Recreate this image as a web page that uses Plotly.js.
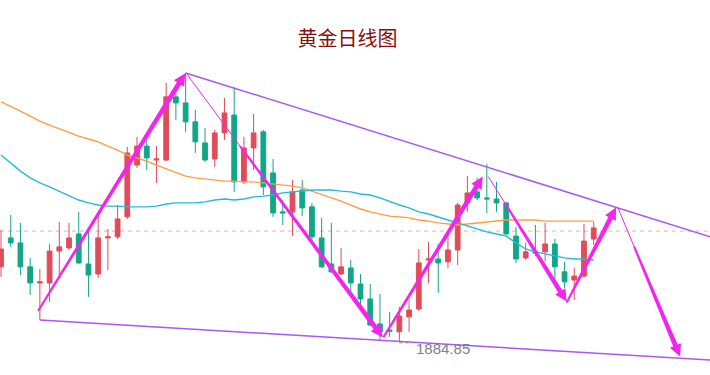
<!DOCTYPE html>
<html>
<head>
<meta charset="utf-8">
<script src="https://cdn.plot.ly/plotly-3.0.1.min.js"></script>
<style>html,body{margin:0;padding:0;background:#fff;}#chart{width:710px;height:375px;}</style>
</head>
<body>
<div id="chart"></div>
<script>
// ---- Daily gold candles ----
const openP  = [1913.4,1924.4,1922.5,1913.4,1907.3,1907.3,1919.4,1920.6,1925.9,1914.5,
                1910.7,1924.4,1924.8,1932.4,1952.1,1959.3,1954.0,1954.0,1978.0,1975.7,
                1968.5,1960.5,1954.4,1964.3,1971.1,1945.7,1958.6,1964.7,1949.1,1934.3,
                1934.3,1942.6,1936.2,1924.4,1914.5,1910.7,1913.0,1906.9,1901.2,1891.7,
                1889.4,1888.7,1894.4,1897.4,1916.0,1916.4,1915.3,1919.8,1937.7,1941.9,
                1939.6,1939.2,1937.7,1925.1,1916.8,1919.1,1919.1,1922.1,1911.5,1908.4,
                1909.9,1924.0];
const closeP = [1920.2,1922.5,1913.4,1907.3,1907.7,1919.4,1921.0,1924.4,1914.9,1910.3,
                1924.4,1924.8,1931.6,1956.7,1959.3,1954.8,1954.4,1978.0,1975.7,1968.5,
                1960.9,1954.0,1964.3,1971.9,1945.7,1958.6,1964.3,1943.8,1933.9,1933.9,
                1941.9,1935.8,1924.8,1913.4,1911.5,1913.4,1907.3,1901.2,1891.3,1888.7,
                1889.0,1894.7,1897.0,1914.9,1916.4,1914.9,1919.8,1936.9,1941.5,1939.6,
                1939.2,1937.7,1925.9,1916.4,1919.1,1918.7,1922.1,1913.4,1907.7,1909.9,
                1923.2,1928.2];
const highP  = [1927.4,1933.1,1930.1,1916.8,1912.6,1922.1,1930.5,1930.1,1934.3,1927.8,
                1934.3,1927.8,1936.9,1959.0,1962.8,1961.6,1959.3,1983.3,1980.6,1987.1,
                1973.0,1966.2,1965.4,1977.6,1981.8,1962.8,1971.5,1965.4,1954.4,1938.8,
                1946.4,1946.4,1937.7,1932.0,1930.1,1920.6,1916.0,1910.7,1906.9,1903.1,
                1896.3,1898.2,1900.8,1920.2,1922.9,1922.1,1925.5,1937.7,1947.9,1947.2,
                1952.5,1945.7,1938.1,1928.6,1922.5,1929.3,1930.1,1924.0,1915.3,1913.0,
                1929.7,1930.5];
const lowP   = [1909.6,1921.0,1910.3,1902.7,1893.2,1900.1,1909.6,1919.8,1914.5,1902.0,
                1909.2,1912.2,1924.0,1931.6,1951.0,1950.2,1945.3,1953.6,1969.2,1964.7,
                1956.7,1953.3,1951.4,1961.6,1941.9,1944.9,1950.2,1940.7,1932.4,1929.3,
                1925.1,1932.7,1922.9,1913.0,1911.2,1910.3,1903.9,1898.9,1890.9,1885.2,
                1886.8,1884.85,1888.7,1896.6,1907.3,1903.5,1913.0,1914.1,1934.3,1938.8,
                1933.9,1934.3,1925.5,1914.9,1916.0,1917.5,1915.3,1907.7,1905.4,1900.8,
                1909.2,1921.7];
// ---- Moving averages ----
const maSlow = [1976.1,1974.5,1972.6,1970.7,1968.8,1967.3,1965.8,1964.3,1963.1,1962.0,
                1960.9,1959.3,1957.8,1955.9,1954.8,1953.6,1952.1,1950.6,1949.1,1947.9,
                1947.2,1946.8,1946.4,1946.0,1946.0,1945.7,1945.7,1945.3,1944.9,1944.5,
                1944.1,1943.4,1942.2,1940.7,1939.6,1938.4,1936.9,1935.4,1934.3,1933.5,
                1932.7,1932.4,1932.0,1931.2,1930.8,1930.1,1929.7,1929.3,1929.7,1930.1,
                1930.5,1930.8,1931.2,1931.2,1931.2,1931.2,1930.8,1930.8,1930.8,1930.8,
                1930.8,1930.8];
const maFast = [1955.9,1952.9,1949.8,1947.2,1945.3,1943.8,1942.2,1940.3,1938.8,1937.7,
                1936.9,1936.5,1936.5,1936.2,1936.2,1936.2,1936.5,1937.3,1937.7,1937.7,
                1937.7,1938.1,1938.8,1939.2,1938.8,1939.2,1940.0,1940.3,1940.7,1941.5,
                1941.9,1942.2,1942.6,1942.6,1942.6,1942.2,1941.9,1941.1,1940.7,1939.6,
                1938.1,1936.9,1935.8,1934.3,1933.5,1932.4,1931.2,1930.1,1928.9,1927.8,
                1926.7,1925.9,1925.1,1922.5,1920.2,1919.1,1918.3,1917.5,1916.8,1916.4,
                1916.4,1916.0];
const priceLine = 1927.0;
const lowLabel = '1884.85';
const lowValue = 1884.85;
const lowIndex = 41;

// ---- Drawings: channel lines and arrows [fromIdx, fromPrice, toIdx, toPrice] ----
const upperChannel = [19, 1987.1, 73, 1924.8];
const lowerChannel = [4, 1893.2, 73, 1878.0];
const thickArrows = [
  [3.81, 1896.6, 18.97, 1987.0],
  [24.60, 1959.3, 39.29, 1886.6],
  [39.35, 1886.6, 49.58, 1947.7],
  [51.87, 1937.6, 58.22, 1900.2],
  [58.22, 1899.8, 63.30, 1936.0],
  [65.15, 1921.2, 69.89, 1879.3]
];
const thinLegs = [
  [19.04, 1987.1, 24.60, 1959.3],
  [50.15, 1947.7, 51.87, 1937.6],
  [63.50, 1935.8, 65.15, 1921.2]
];

const idx = openP.map((_, i) => i);
const W = 710, H = 375;
const X0 = -0.103, X1 = 72.97, Y0 = 1872.31, Y1 = 2014.81;
function toPx(i, p) { return [(i - X0) / (X1 - X0) * W, (Y1 - p) / (Y1 - Y0) * H]; }
function toData(px, py) { return [X0 + px / W * (X1 - X0), Y1 - py / H * (Y1 - Y0)]; }

const MAG = '#f224ee', PURPLE = '#a957f5';
const shapes = [];
shapes.push({type:'line', xref:'paper', yref:'y', x0:0, x1:1, y0:priceLine, y1:priceLine,
  line:{color:'#f2a9ad', width:1, dash:'4px,4px'}, layer:'below'});
[upperChannel, lowerChannel].forEach(c => shapes.push({type:'line', xref:'x', yref:'y',
  x0:c[0], y0:c[1], x1:c[2], y1:c[3], line:{color:PURPLE, width:1.5}}));
thinLegs.forEach(c => shapes.push({type:'line', xref:'x', yref:'y',
  x0:c[0], y0:c[1], x1:c[2], y1:c[3], line:{color:MAG, width:1}}));

function arrowPath(a, w0, w1, hl, hw) {
  const T = toPx(a[0], a[1]), P = toPx(a[2], a[3]);
  const dx = P[0] - T[0], dy = P[1] - T[1], L = Math.hypot(dx, dy);
  const ux = dx / L, uy = dy / L, nx = -uy, ny = ux;
  const B = [P[0] - ux * hl, P[1] - uy * hl];
  const pts = [
    [T[0] + nx * w0 / 2, T[1] + ny * w0 / 2],
    [B[0] + nx * w1 / 2, B[1] + ny * w1 / 2],
    [B[0] + nx * hw, B[1] + ny * hw],
    P,
    [B[0] - nx * hw, B[1] - ny * hw],
    [B[0] - nx * w1 / 2, B[1] - ny * w1 / 2],
    [T[0] - nx * w0 / 2, T[1] - ny * w0 / 2]
  ].map(q => toData(q[0], q[1]));
  return 'M' + pts.map(q => q[0].toFixed(4) + ',' + q[1].toFixed(3)).join('L') + 'Z';
}
thickArrows.forEach(a => shapes.push({type:'path', xref:'x', yref:'y',
  path: arrowPath(a, 2.0, 4.8, 12, 6), fillcolor:MAG, line:{width:0}}));

// dotted leader to the low label
shapes.push({type:'line', xref:'x', yref:'y', x0:lowIndex, x1:lowIndex + 1.3, y0:lowValue - 0.3, y1:lowValue - 0.3,
  line:{color:'#80828d', width:1, dash:'dot'}});

const traces = [
  {type:'scatter', mode:'lines', x:idx, y:maSlow, line:{color:'#ff9d45', width:1.4}, hoverinfo:'skip'},
  {type:'scatter', mode:'lines', x:idx, y:maFast, line:{color:'#22bcd9', width:1.4}, hoverinfo:'skip'},
  {type:'candlestick', x:idx, open:openP, high:highP, low:lowP, close:closeP,
   increasing:{line:{color:'#e04c59', width:1}, fillcolor:'#e04c59'},
   decreasing:{line:{color:'#12a689', width:1}, fillcolor:'#12a689'},
   whiskerwidth:0, hoverinfo:'skip'}
];

const layout = {
  width:W, height:H, margin:{l:0, r:0, t:0, b:0},
  paper_bgcolor:'#ffffff', plot_bgcolor:'#ffffff',
  showlegend:false, hovermode:false,
  title:{text:'黄金日线图', x:0.4894, xanchor:'center', y:0.895, yanchor:'middle', xref:'paper', yref:'container',
    font:{family:'Noto Sans CJK SC', size:20, color:'#8b0c0c'}},
  xaxis:{range:[X0, X1], visible:false, rangeslider:{visible:false}, fixedrange:true},
  yaxis:{range:[Y0, Y1], visible:false, fixedrange:true},
  shapes:shapes,
  annotations:[{x:lowIndex + 1.55, y:lowValue - 2.3, xref:'x', yref:'y', text:lowLabel, showarrow:false,
    xanchor:'left', yanchor:'middle', font:{family:'Liberation Sans, Arial, sans-serif', size:15, color:'#7d7f8a'}}]
};
Plotly.newPlot('chart', traces, layout, {staticPlot:true, displayModeBar:false});
</script>
</body>
</html>
